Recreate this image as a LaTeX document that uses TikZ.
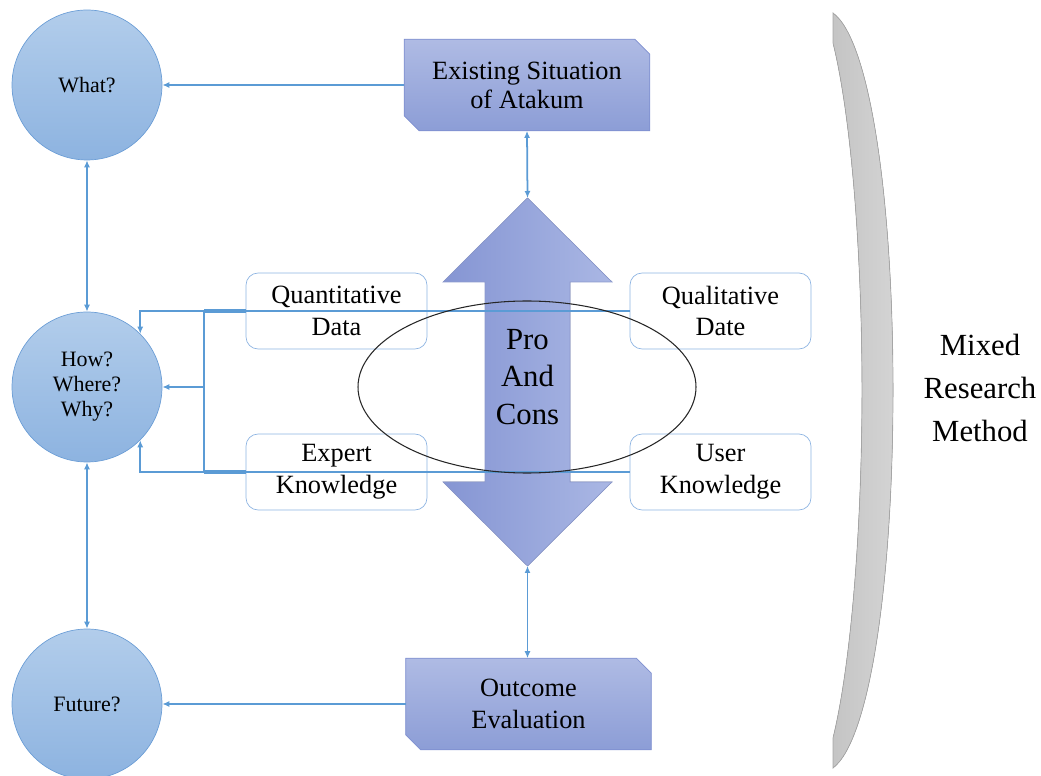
\documentclass[tikz,border=0pt]{standalone}
\usepackage{fontspec}
\setmainfont{Liberation Serif}
\usetikzlibrary{arrows.meta,calc,backgrounds}
\definecolor{linkblue}{HTML}{5B9BD5}
\definecolor{circtop}{HTML}{B2CDEB}
\definecolor{circbot}{HTML}{8DB3E0}
\definecolor{circline}{HTML}{6C9ED6}
\definecolor{sniptop}{HTML}{AFBBE4}
\definecolor{snipbot}{HTML}{8C9DD6}
\definecolor{snipline}{HTML}{7E8FD0}
\definecolor{boxline}{HTML}{8DB4E2}
\definecolor{arrleft}{HTML}{8595D3}
\definecolor{arrright}{HTML}{AAB7E4}

% frame with two cut corners behind a snipbox node
\newcommand{\snipframe}[1]{%
  \draw[snipline, top color=sniptop, bottom color=snipbot]
    (#1.north west) -- ([xshift=-0.3cm]#1.north east) -- ([yshift=-0.3cm]#1.north east)
    -- (#1.south east) -- ([xshift=0.3cm]#1.south west) -- ([yshift=0.3cm]#1.south west) -- cycle;}

\begin{document}
\begin{tikzpicture}[
          x=0.02cm, y=-0.02cm,
          qcircle/.style={circle, draw=circline, top color=circtop, bottom color=circbot, minimum size=3cm, inner sep=0pt, align=center, font=\fontsize{12.5}{14.2}\selectfont},
          snipbox/.style={rectangle, minimum width=4.9cm, minimum height=1.82cm, inner sep=0pt, align=center, font=\fontsize{15}{17.5}\selectfont},
          databox/.style={rectangle, rounded corners=0.24cm, draw=boxline, fill=white, minimum width=3.62cm, minimum height=1.52cm, inner sep=0pt, align=center, font=\fontsize{15}{18}\selectfont},
          link/.style={draw=linkblue, line width=1pt},
          toarrow/.style={-{Latex[length=1.4mm,width=1.2mm]}},
          twoway/.style={{Latex[length=1.4mm,width=1.2mm]}-{Latex[length=1.4mm,width=1.2mm]}},
          bigtext/.style={align=center, font=\fontsize{17.5}{21.5}\selectfont}
      ]
        \useasboundingbox (0,0) rectangle (1041,776);
        \clip (0,0) rectangle (1041,776);

        % questions on the left
        \node[qcircle] (what) at (87,85) {What?};
        \node[qcircle] (how) at (87,387) {How?\\Where?\\Why?};
        \node[qcircle] (future) at (87,704) {Future?};

        % top and bottom boxes
        \node[snipbox, font=\fontsize{15}{16.5}\selectfont] (exist) at (527,85) {Existing Situation\\of Atakum};
        \node[snipbox, font=\fontsize{15}{18.5}\selectfont] (out) at (528.5,704) {Outcome\\Evaluation};
        \begin{pgfonlayer}{background}
          \snipframe{exist}
          \snipframe{out}
        \end{pgfonlayer}

        % data sources
        \node[databox] (quan) at (336.5,311) {Quantitative\\Data};
        \node[databox] (expert) at (336.5,472) {Expert\\Knowledge};
        \node[databox] (qual) at (720.5,311) {Qualitative\\Date};
        \node[databox] (user) at (720.5,472) {User\\Knowledge};

        % double arrow
        \coordinate (protop) at (527.5,198);
        \coordinate (probot) at (527.5,566);
        \filldraw[draw=arrleft!90!black!60!arrright, left color=arrleft, right color=arrright]
          (protop) -- (612,282) -- (570,282) -- (570,482) -- (612,482) -- (probot)
          -- (443,482) -- (485,482) -- (485,282) -- (443,282) -- cycle;

        % collecting lines
        \coordinate (jtop) at (204,311);
        \coordinate (jbot) at (204,472);
        \coordinate (jmid) at (jtop |- how.east);
        \draw[link] (qual.west) -- (jtop) -- (jbot) -- (user.west);
        \draw[link, line width=1.8pt] (quan.west) -- (jtop);
        \draw[link, line width=1.8pt] (expert.west) -- (jbot);
        \draw[link, toarrow] (jtop) -| (how.north east);
        \draw[link, toarrow] (jmid) -- (how.east);
        \draw[link, toarrow] (jbot) -| (how.south east);

        \draw[black!85, line width=0.6pt] (527,387) ellipse [x radius=169, y radius=86];
        \node[bigtext] (pro) at (527.5,377) {Pro\\And\\Cons};

        % connectors
        \draw[link, toarrow] (exist.west) -- (what.east);
        \draw[link, toarrow] (out.west) -- (future.east);
        \draw[link, twoway] (exist.south) -- (protop);
        \draw[link, twoway] (probot) -- (probot |- out.north);
        \draw[link, twoway] (what.south) -- (how.north);
        \draw[link, twoway] (how.south) -- (future.north);

        % bracket and method
        \filldraw[draw=black!35, left color=black!23, right color=black!17]
          (833,13) .. controls (870,40) and (893,200) .. (893,390)
          .. controls (893,580) and (870,740) .. (833,768) -- (833,738)
          .. controls (852,660) and (862,520) .. (862,390)
          .. controls (862,260) and (852,120) .. (833,43) -- cycle;
        \node[bigtext, font=\fontsize{17.5}{24.4}\selectfont] (method) at (980,388) {Mixed\\Research\\Method};
      \end{tikzpicture}
\end{document}
